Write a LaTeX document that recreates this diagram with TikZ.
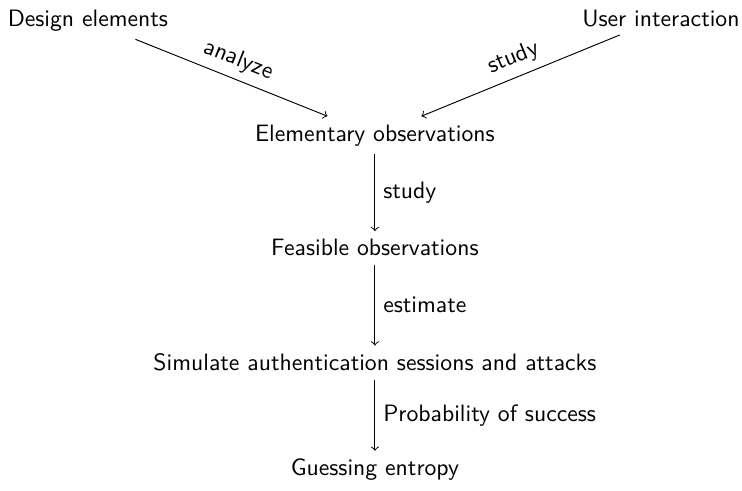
\documentclass[tikz,border=0pt]{standalone}
\usepackage{tikz}
\usetikzlibrary{positioning}

\begin{document}
\begin{tikzpicture}[->,auto,font=\sffamily]

  \tikzstyle{every node} = [anchor=base]
  \useasboundingbox (0pt,0pt) rectangle (313.1pt,-206.8pt);

  \node (D) at (37.1pt,-11pt)     {Design elements};
  \node (U) at (278.9pt,-11pt)    {User interaction};
  \node (E) at (158.2pt,-59.5pt)  {Elementary observations};
  \node (F) at (158.2pt,-108pt)   {Feasible observations};
  \node (S) at (158.2pt,-156.5pt) {Simulate authentication sessions and attacks};
  \node (G) at (158.2pt,-200.8pt) {Guessing entropy};

  \path (D) edge node[sloped,anchor=south] {analyze} (E)
        (U) edge node[sloped,anchor=south,swap] {study} (E)
        (E) edge node[anchor=west] {study} (F)
        (F) edge node[anchor=west] {estimate} (S)
        (S) edge node[anchor=west] {Probability of success} (G);
\end{tikzpicture}
\end{document}
